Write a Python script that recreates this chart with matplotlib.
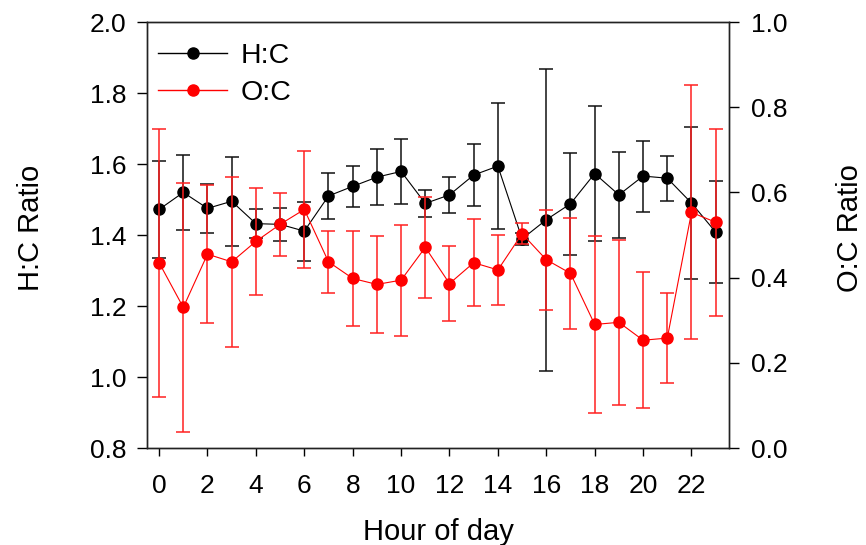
import matplotlib
matplotlib.use("Agg")
import matplotlib.pyplot as plt
from matplotlib.lines import Line2D

plt.rcParams['font.family'] = ['Liberation Sans', 'DejaVu Sans']

hours = list(range(24))
hc = [1.472, 1.520, 1.475, 1.495, 1.432, 1.430, 1.411, 1.510, 1.537, 1.563, 1.579, 1.489,
      1.513, 1.569, 1.594, 1.389, 1.443, 1.488, 1.573, 1.513, 1.566, 1.560, 1.490, 1.408]
hc_err = [0.137, 0.105, 0.068, 0.126, 0.040, 0.046, 0.083, 0.066, 0.057, 0.079, 0.092, 0.037,
          0.051, 0.087, 0.178, 0.018, 0.425, 0.144, 0.190, 0.122, 0.100, 0.063, 0.213, 0.144]
oc = [0.435, 0.330, 0.455, 0.437, 0.485, 0.525, 0.560, 0.437, 0.398, 0.384, 0.394, 0.471,
      0.386, 0.435, 0.418, 0.503, 0.442, 0.410, 0.290, 0.295, 0.253, 0.258, 0.553, 0.530]
oc_err = [0.315, 0.293, 0.162, 0.200, 0.125, 0.074, 0.137, 0.073, 0.112, 0.114, 0.130, 0.119,
          0.089, 0.102, 0.083, 0.025, 0.117, 0.130, 0.207, 0.194, 0.160, 0.106, 0.298, 0.219]
xticks = list(range(0, 23, 2))
left_ticks = [0.8, 1.0, 1.2, 1.4, 1.6, 1.8, 2.0]
right_ticks = [0.0, 0.2, 0.4, 0.6, 0.8, 1.0]

fig = plt.figure(figsize=(8.66, 5.45), dpi=100)
ax1 = fig.add_axes([147/866, 1-448/545, (729-147)/866, (448-22)/545])
ax2 = ax1.twinx()

ax1.errorbar(hours, hc, yerr=hc_err, color='black', lw=0.8, marker='o', ms=8,
             ecolor='#111111', elinewidth=1.1, capsize=5, capthick=1.1)
ax2.errorbar(hours, oc, yerr=oc_err, color='#ff0000', lw=0.8, marker='o', ms=8,
             ecolor='#ff2020', elinewidth=1.1, capsize=5, capthick=1.1)

ax1.set_xlim(-0.5, 23.55)
ax1.set_ylim(0.8, 2.0)
ax2.set_ylim(0.0, 1.0)
ax1.set_xticks(xticks)
ax1.set_yticks(left_ticks)
ax2.set_yticks(right_ticks)
ax1.set_yticklabels([f"{v:.1f}" for v in left_ticks])
ax2.set_yticklabels([f"{v:.1f}" for v in right_ticks])

for a in (ax1, ax2):
    for s in a.spines.values():
        s.set_linewidth(1.0)
        s.set_color('#222222')
ax1.tick_params(axis='x', direction='out', length=6, width=1, labelsize=19, pad=13)
ax1.tick_params(axis='y', direction='out', length=7, width=1, labelsize=19, pad=8)
ax2.tick_params(axis='y', direction='out', length=7, width=1, labelsize=19, pad=9)

fig.text(31/866, 1-228/545, 'H:C Ratio', rotation=90, ha='center', va='center', fontsize=21)
fig.text(850/866, 1-228/545, 'O:C Ratio', rotation=90, ha='center', va='center', fontsize=21)
fig.text(438/866, 1-540/545, 'Hour of day', ha='center', va='baseline', fontsize=21)

handles = [Line2D([], [], color='black', lw=1, marker='o', ms=8),
           Line2D([], [], color='#ff0000', lw=1, marker='o', ms=8)]
ax2.legend(handles, ['H:C', 'O:C'], loc='upper left', frameon=False, fontsize=20.5,
           handlelength=2.4, handletextpad=0.5, labelspacing=0.38,
           borderaxespad=0.0, bbox_to_anchor=(0.0, 0.978))

fig.savefig('out.png', dpi=100)
